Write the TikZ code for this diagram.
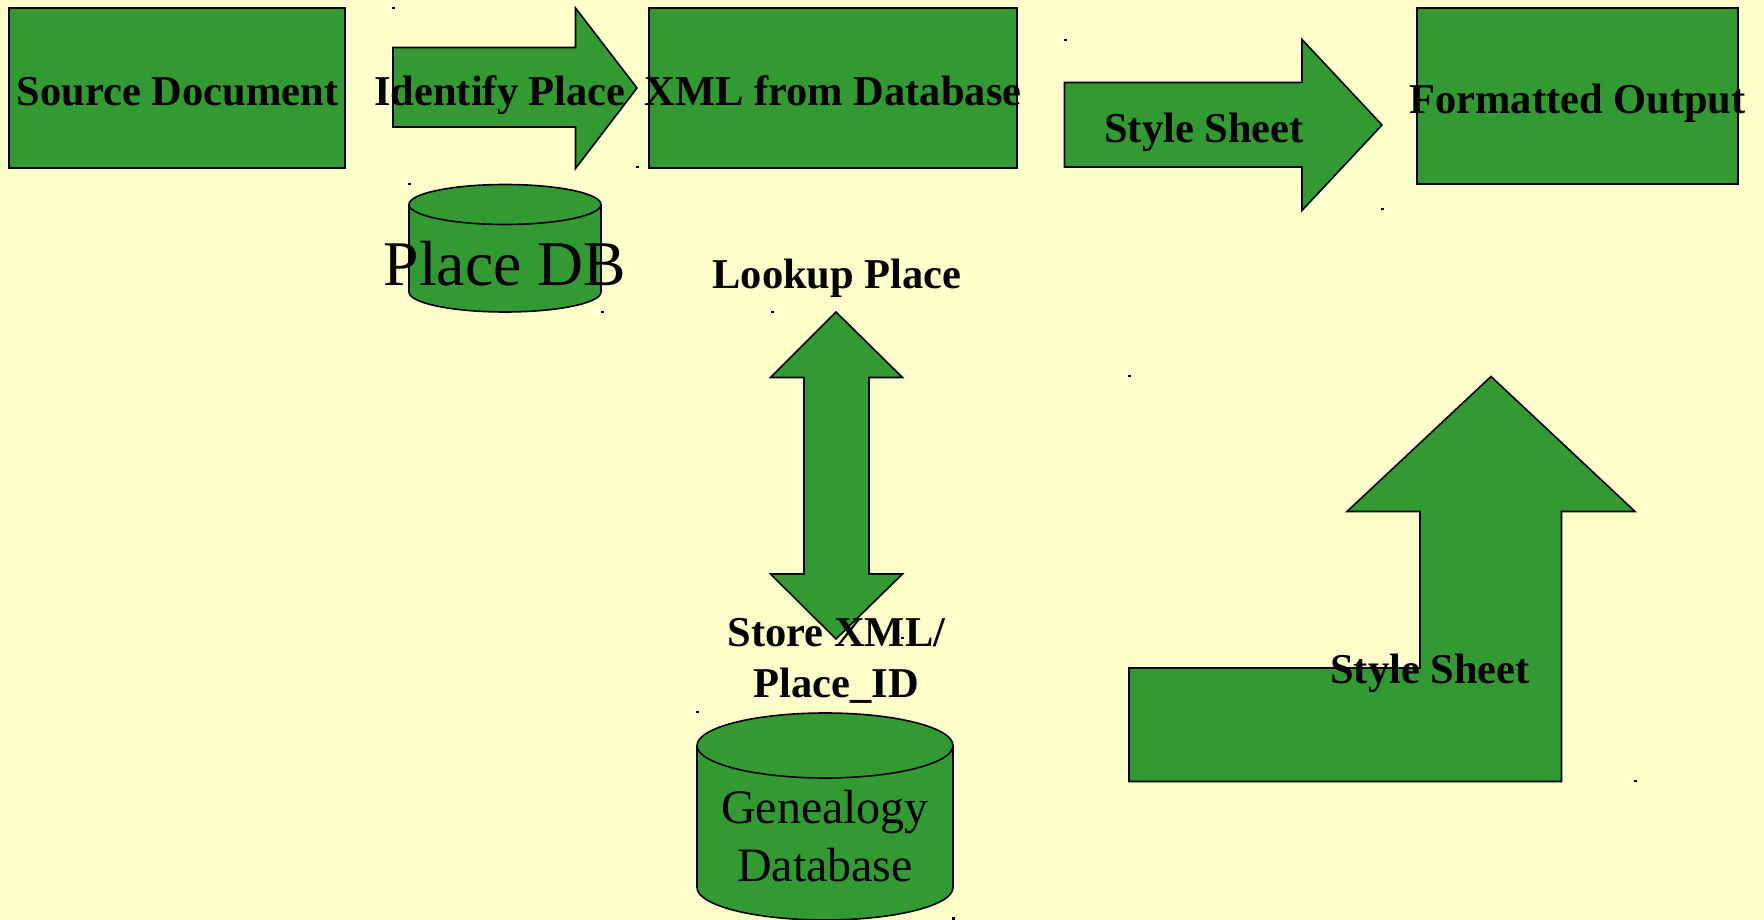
\documentclass[tikz,border=0pt]{standalone}
\usepackage{fontspec}
\setmainfont{Liberation Serif}
\definecolor{pagebg}{HTML}{FFFFCC}
\definecolor{shapegreen}{HTML}{339933}
\tikzset{
  x=1pt,y=-1pt,
  boxshape/.style={draw=black,fill=shapegreen,line width=2pt,line join=miter},
  arrowshape/.style={draw=black,fill=shapegreen,line width=1.6pt,line join=miter},
  boldlabel/.style={anchor=base,inner sep=0pt,text=black,font=\fontsize{42.5}{51}\selectfont\bfseries,align=center},
  dblabel/.style={anchor=base,inner sep=0pt,text=black,align=center},
  handle/.style={fill=black,minimum width=3pt,minimum height=2.5pt,inner sep=0pt,draw=none}
}
\newcommand{\cylinderat}[5]{% left, right, top, bottom, ry
  \path[arrowshape] (#1,#3+#5) -- (#1,#4-#5)
    .. controls (#1,{#4-#5+0.55*#5}) and ({(#1+#2)/2-0.55*(#2-#1)/2},#4) .. ({(#1+#2)/2},#4)
    .. controls ({(#1+#2)/2+0.55*(#2-#1)/2},#4) and (#2,{#4-#5+0.55*#5}) .. (#2,#4-#5)
    -- (#2,#3+#5)
    .. controls (#2,{#3+#5-0.55*#5}) and ({(#1+#2)/2+0.55*(#2-#1)/2},#3) .. ({(#1+#2)/2},#3)
    .. controls ({(#1+#2)/2-0.55*(#2-#1)/2},#3) and (#1,{#3+#5-0.55*#5}) .. (#1,#3+#5) -- cycle;
  \path[arrowshape,fill=none] (#1,#3+#5)
    .. controls (#1,{#3+#5+0.55*#5}) and ({(#1+#2)/2-0.55*(#2-#1)/2},#3+2*#5) .. ({(#1+#2)/2},#3+2*#5)
    .. controls ({(#1+#2)/2+0.55*(#2-#1)/2},#3+2*#5) and (#2,{#3+#5+0.55*#5}) .. (#2,#3+#5);
}
\begin{document}
\begin{tikzpicture}
\useasboundingbox (0,0) rectangle (1764,920);
\fill[pagebg] (0,0) rectangle (1764,920);

% boxes
\path[boxshape] (9,8) rectangle (345,168);
\path[boxshape] (649,8) rectangle (1017,168);
\path[boxshape] (1417,8) rectangle (1737.5,184);

% block arrows
\path[arrowshape] (393,47.5) -- (575.5,47.5) -- (575.5,8) -- (637,88) -- (575.5,168.5) -- (575.5,127) -- (393,127) -- cycle;
\path[arrowshape] (1064.5,82.5) -- (1302,82.5) -- (1302,39.5) -- (1382,125) -- (1302,210.5) -- (1302,167) -- (1064.5,167) -- cycle;
\path[arrowshape] (836,312) -- (902.5,377.5) -- (869,377.5) -- (869,574) -- (902.5,574) -- (836,639) -- (770.5,574) -- (804,574) -- (804,377.5) -- (770.5,377.5) -- cycle;
\path[arrowshape] (1129,668) -- (1420,668) -- (1420,511.5) -- (1347,511.5) -- (1491,376.5) -- (1635,511.5) -- (1561.5,511.5) -- (1561.5,781.5) -- (1129,781.5) -- cycle;

% cylinders
\cylinderat{409}{601}{184.5}{312}{20}
\cylinderat{697}{953}{713}{920}{32.5}

% selection handles
\node[handle] (h1) at (393,8) {};
\node[handle] (h2) at (637.5,167) {};
\node[handle] (h3) at (409,184) {};
\node[handle] (h4) at (602,312) {};
\node[handle] (h5) at (1065,40) {};
\node[handle] (h6) at (1382,209) {};
\node[handle] (h7) at (772,312) {};
\node[handle] (h8) at (1129,376) {};
\node[handle] (h9) at (1635,781) {};
\node[handle] (h10) at (697,712) {};
\node[handle] (h11) at (953,918.5) {};
\node[handle] (h12) at (902.5,638) {};

% labels
\node[boldlabel] (source) at (177.5,106) {Source Document};
\node[boldlabel] (identify) at (500,106) {Identify Place};
\node[boldlabel] (xml) at (833,106) {XML from Database};
\node[boldlabel] (formatted) at (1577.5,114) {Formatted Output};
\node[boldlabel] (style1) at (1204,143) {Style Sheet};
\node[boldlabel] (lookup) at (837,288) {Lookup Place};
\node[boldlabel] (store) at (836.5,697.5) {Store XML/\\Place\_ID};
\node[boldlabel] (style2) at (1430,683.5) {Style Sheet};
\node[dblabel,font=\fontsize{63.7}{70}\selectfont] (placedb) at (505,285) {Place DB};
\node[dblabel,font=\fontsize{48}{58}\selectfont] (genea) at (825,881.5) {Genealogy\\Database};
\end{tikzpicture}
\end{document}
